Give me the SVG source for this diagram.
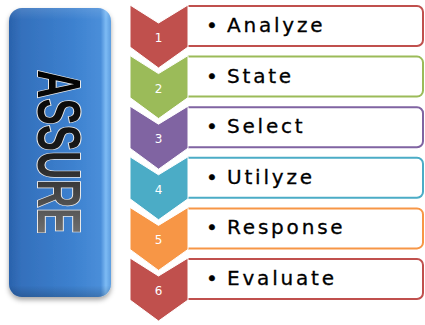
<svg xmlns="http://www.w3.org/2000/svg" width="425" height="325" viewBox="0 0 425 325">
<defs>
<linearGradient id="boxg" x1="0" y1="0" x2="1" y2="0">
<stop offset="0" stop-color="#2A62AC"/>
<stop offset="0.12" stop-color="#3470BC"/>
<stop offset="0.6" stop-color="#3C80CE"/>
<stop offset="0.9" stop-color="#4A8ED9"/>
<stop offset="0.95" stop-color="#7DBBF4"/>
<stop offset="1" stop-color="#5C9DE0"/>
</linearGradient>
<linearGradient id="boxv" x1="0" y1="0" x2="0" y2="1">
<stop offset="0" stop-color="#ffffff" stop-opacity="0.12"/>
<stop offset="0.04" stop-color="#ffffff" stop-opacity="0"/>
<stop offset="0.96" stop-color="#000000" stop-opacity="0"/>
<stop offset="1" stop-color="#000000" stop-opacity="0.18"/>
</linearGradient>
<linearGradient id="txtg" x1="0" y1="0" x2="1" y2="0">
<stop offset="0" stop-color="#000000"/>
<stop offset="0.5" stop-color="#1a1a1a"/>
<stop offset="1" stop-color="#707070"/>
</linearGradient>
<filter id="sh" x="-20%" y="-10%" width="140%" height="120%">
<feDropShadow dx="0" dy="3" stdDeviation="2.5" flood-color="#000" flood-opacity="0.35"/>
</filter>
<style>
.num{font-family:"DejaVu Sans",sans-serif;font-size:12px;fill:#fff;text-anchor:middle}
.lbl{font-family:"DejaVu Sans",sans-serif;font-size:20px;fill:#000;stroke:#000;stroke-width:0.3;letter-spacing:2.8px}
.box{fill:#fff;stroke-width:2}
.chev{stroke:#fff;stroke-width:1}
</style>
</defs>

<g id="assure">
<rect x="9" y="8" width="102" height="289" rx="13" fill="url(#boxg)" filter="url(#sh)"/>
<rect x="9" y="8" width="102" height="289" rx="13" fill="url(#boxv)"/>
<text transform="translate(38,70) rotate(90) scale(0.645,1)" x="0" y="0" font-family="'Liberation Sans',Arial,sans-serif" font-weight="bold" font-size="61" fill="url(#txtg)" stroke="#e8e8e8" stroke-width="2" paint-order="stroke">ASSURE</text>
</g>

<g id="step1">
<path class="box" stroke="#C0504D" d="M188,6 H417 A6,6 0 0 1 423,12 V40 A6,6 0 0 1 417,46 H188"/>
<path class="chev" fill="#C0504D" d="M130,5 L158.5,23 L188,5 V47 L158.5,68 L130,47 Z"/>
<text class="num" x="158.5" y="42">1</text>
<text class="lbl"><tspan x="206" y="32">•</tspan><tspan x="227" y="32">Analyze</tspan></text>
</g>

<g id="step2">
<path class="box" stroke="#9BBB59" d="M188,56.6 H417 A6,6 0 0 1 423,62.6 V90.6 A6,6 0 0 1 417,96.6 H188"/>
<path class="chev" fill="#9BBB59" d="M130,55.6 L158.5,73.6 L188,55.6 V97.6 L158.5,118.6 L130,97.6 Z"/>
<text class="num" x="158.5" y="92.6">2</text>
<text class="lbl"><tspan x="206" y="82.6">•</tspan><tspan x="227" y="82.6">State</tspan></text>
</g>

<g id="step3">
<path class="box" stroke="#8064A2" d="M188,107.2 H417 A6,6 0 0 1 423,113.2 V141.2 A6,6 0 0 1 417,147.2 H188"/>
<path class="chev" fill="#8064A2" d="M130,106.2 L158.5,124.2 L188,106.2 V148.2 L158.5,169.2 L130,148.2 Z"/>
<text class="num" x="158.5" y="143.2">3</text>
<text class="lbl"><tspan x="206" y="133.2">•</tspan><tspan x="227" y="133.2">Select</tspan></text>
</g>

<g id="step4">
<path class="box" stroke="#4BACC6" d="M188,157.8 H417 A6,6 0 0 1 423,163.8 V191.8 A6,6 0 0 1 417,197.8 H188"/>
<path class="chev" fill="#4BACC6" d="M130,156.8 L158.5,174.8 L188,156.8 V198.8 L158.5,219.8 L130,198.8 Z"/>
<text class="num" x="158.5" y="193.8">4</text>
<text class="lbl"><tspan x="206" y="183.8">•</tspan><tspan x="227" y="183.8">Utilyze</tspan></text>
</g>

<g id="step5">
<path class="box" stroke="#F79646" d="M188,208.4 H417 A6,6 0 0 1 423,214.4 V242.4 A6,6 0 0 1 417,248.4 H188"/>
<path class="chev" fill="#F79646" d="M130,207.4 L158.5,225.4 L188,207.4 V249.4 L158.5,270.4 L130,249.4 Z"/>
<text class="num" x="158.5" y="244.4">5</text>
<text class="lbl"><tspan x="206" y="234.4">•</tspan><tspan x="227" y="234.4">Response</tspan></text>
</g>

<g id="step6">
<path class="box" stroke="#C0504D" d="M188,259 H417 A6,6 0 0 1 423,265 V293 A6,6 0 0 1 417,299 H188"/>
<path class="chev" fill="#C0504D" d="M130,258 L158.5,276 L188,258 V300 L158.5,321 L130,300 Z"/>
<text class="num" x="158.5" y="295">6</text>
<text class="lbl"><tspan x="206" y="285">•</tspan><tspan x="227" y="285">Evaluate</tspan></text>
</g>

<g id="connectors"/>
</svg>
